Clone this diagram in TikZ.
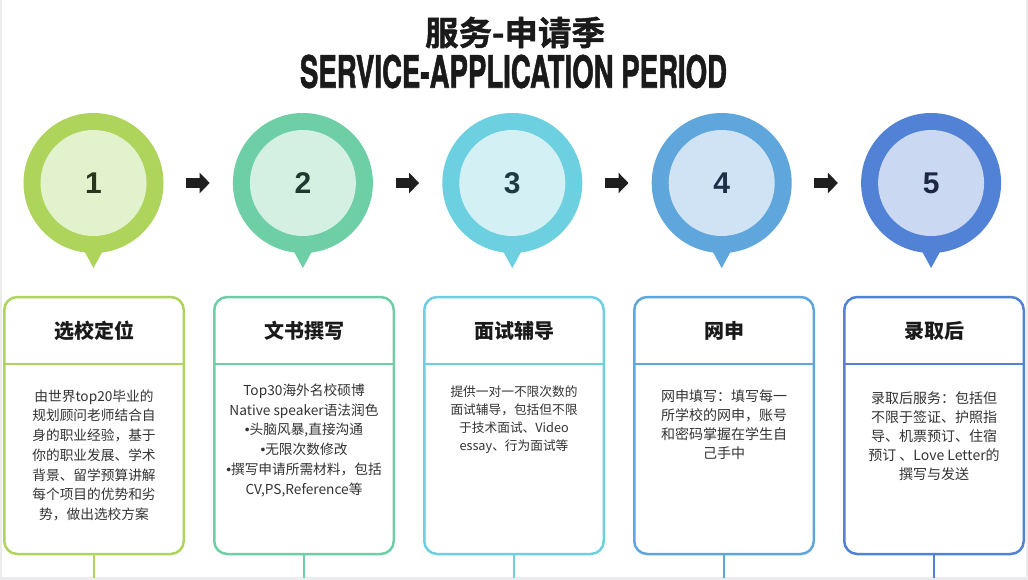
\documentclass[tikz,border=0pt]{standalone}
\usepackage{fontspec}
\setmainfont{Noto Sans CJK SC}
\newfontfamily\numfont{Liberation Sans}
\newfontfamily\bulfont{Liberation Sans}
\newfontfamily\headfont[FakeBold=1.6]{TeX Gyre Heros}
\newfontfamily\cjktitle[FakeBold=1.2]{Noto Sans CJK SC Bold}
\usetikzlibrary{arrows.meta}
\definecolor{o1}{HTML}{AED45B}
\definecolor{o2}{HTML}{6ECFA7}
\definecolor{o3}{HTML}{6DD0E0}
\definecolor{o4}{HTML}{5EA6DB}
\definecolor{o5}{HTML}{5282D6}
\definecolor{i1}{HTML}{E2F2CD}
\definecolor{i2}{HTML}{D3F0E3}
\definecolor{i3}{HTML}{D3F1F5}
\definecolor{i4}{HTML}{CFE3F5}
\definecolor{i5}{HTML}{CAD8F2}
\definecolor{n1}{HTML}{27361C}
\definecolor{n2}{HTML}{1E3A30}
\definecolor{n3}{HTML}{1E3A42}
\definecolor{n4}{HTML}{1C3048}
\definecolor{n5}{HTML}{1C2542}
\definecolor{bodyc}{HTML}{333333}
\definecolor{titlec}{HTML}{1A1A1A}
\definecolor{framec}{HTML}{ECECEF}
\newcommand{\bul}{{\bulfont •}}
\tikzset{
  outerc/.style={circle, inner sep=0pt, minimum size=140pt},
  innerc/.style={circle, inner sep=0pt, minimum size=106pt,
    font=\numfont\bfseries\fontsize{30}{30}\selectfont},
  stepbox/.style={rounded corners=13pt, line width=2.5pt, inner sep=0pt,
    minimum width=179.5pt, minimum height=257pt},
  boxtitle/.style={font=\bfseries\fontsize{20}{20}\selectfont, text=titlec},
  bodytext/.style={align=center, anchor=north, inner sep=0pt, text=bodyc},
  flowarrow/.style={line width=10pt, draw=black!88,
    -{Triangle[width=20pt,length=10pt]}, shorten <=22.5pt, shorten >=23pt},
}
\begin{document}
\begin{tikzpicture}[x=1pt,y=-1pt]
\useasboundingbox (0,0) rectangle (1028,580);
\fill[white] (0,0) rectangle (1028,580);
\fill[framec] (0,0) rectangle (2,580);
\fill[framec] (1025.5,0) rectangle (1028,580);
\fill[framec] (0,577) rectangle (1028,580);

% titles
\node[font=\cjktitle\fontsize{33.5}{33.5}\selectfont, text=titlec, inner sep=0pt] (t1) at (515,32.5) {服务-申请季};
\node[inner sep=0pt, text=titlec] (t2) at (513.5,71.5) {\resizebox{427pt}{33pt}{\headfont\bfseries SERVICE-APPLICATION PERIOD}};

% circles
\foreach \i in {1,...,5}{
  \pgfmathsetmacro{\cx}{93.5+209.4*(\i-1)}
  \fill[o\i] (\cx-11.5,247) -- (\cx+11.5,247) -- (\cx,268) -- cycle;
  \node[outerc, fill=o\i] (c\i) at (\cx,183) {};
  \node[innerc, fill=i\i, text=n\i] (ci\i) at (\cx,183) {\i};
}
\foreach \i [evaluate=\i as \j using int(\i+1)] in {1,...,4}{
  \draw[flowarrow] (c\i) -- (c\j);
}

% boxes
\foreach \i/\ttl in {1/选校定位, 2/文书撰写, 3/面试辅导, 4/网申, 5/录取后}{
  \pgfmathsetmacro{\bx}{94+210*(\i-1)}
  \node[stepbox, draw=o\i] (b\i) at (\bx,425.5) {};
  \draw[o\i, line width=2.5pt] (b\i.west |- 0,364) -- (b\i.east |- 0,364);
  \node[boxtitle] (h\i) at (\bx,331) {\ttl};
  \coordinate (e\i) at (\bx,578);
  \draw[o\i, line width=2.5pt] (b\i.south) -- (e\i);
}

% body texts
\node[bodytext, font=\fontsize{13.7}{19.7}\selectfont] (p1) at (94,389.5)
  {由世界top20毕业的\\规划顾问老师结合自\\身的职业经验，基于\\你的职业发展、学术\\背景、留学预算讲解\\每个项目的优势和劣\\势，做出选校方案};
\node[bodytext, font=\fontsize{13.7}{19.8}\selectfont] (p2) at (304,383.5)
  {Top30海外名校硕博\\Native speaker语法润色\\\bul 头脑风暴,直接沟通\\\bul 无限次数修改\\\bul 撰写申请所需材料，包括\\CV,PS,Reference等};
\node[bodytext, font=\fontsize{12.7}{18}\selectfont] (p3) at (514,386)
  {提供一对一不限次数的\\面试辅导，包括但不限\\于技术面试、Video\\essay、行为面试等};
\node[bodytext, font=\fontsize{14}{19}\selectfont] (p4) at (724,389.5)
  {网申填写：填写每一\\所学校的网申，账号\\和密码掌握在学生自\\己手中};
\node[bodytext, font=\fontsize{14}{19}\selectfont] (p5) at (934,391.5)
  {录取后服务：包括但\\不限于签证、护照指\\导、机票预订、住宿\\预订 、Love Letter的\\撰写与发送};
\end{tikzpicture}
\end{document}
